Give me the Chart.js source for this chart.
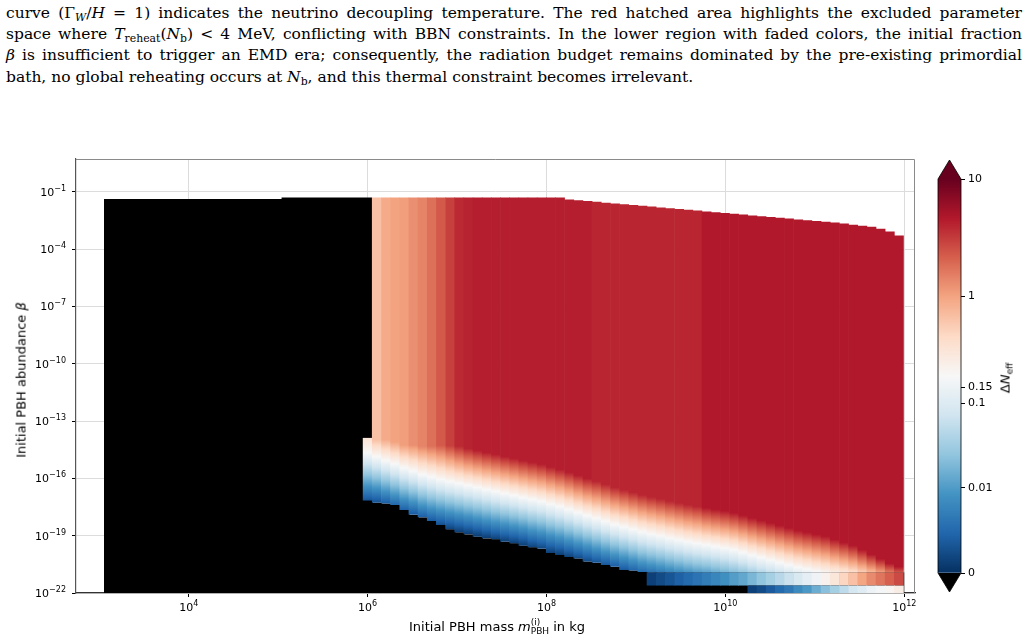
<!DOCTYPE html>
<html>
<head>
<meta charset="utf-8">
<script src="https://cdn.jsdelivr.net/npm/chart.js"></script>
<style>
  body { margin: 0; width: 1028px; height: 643px; background: #fff; position: relative; overflow: hidden; font-family: 'DejaVu Sans', sans-serif; color: #000; }
  #caption { position: absolute; left: 6px; top: 3px; width: 1016px; font-family: 'DejaVu Serif', serif; font-size: 15.5px; line-height: 21.2px; }
  #caption .ln { display: block; text-align: justify; text-align-last: justify; }
  #caption .ln.last { text-align-last: left; }
  #caption sub { font-size: 70%; line-height: 0; vertical-align: -0.25em; }
  #mainWrap { position: absolute; left: 0; top: 140px; width: 930px; height: 490px; }
  #barWrap { position: absolute; left: 925px; top: 140px; width: 103px; height: 480px; }
  .axtitle { position: absolute; font-size: 13px; white-space: nowrap; transform: translate(-50%, -50%); }
  .rot { transform: translate(-50%, -50%) rotate(-90deg); }
  .ss { display: inline-block; font-size: 9px; line-height: 9px; vertical-align: -3px; }
  .sub { font-size: 9px; vertical-align: -3px; }
</style>
</head>
<body>
<div id="caption">
  <span class="ln">curve (Γ<sub><i>W</i></sub>/<i>H</i> = 1) indicates the neutrino decoupling temperature. The red hatched area highlights the excluded parameter</span>
  <span class="ln">space where <i>T</i><sub>reheat</sub>(<i>N</i><sub>b</sub>) &lt; 4 MeV, conflicting with BBN constraints. In the lower region with faded colors, the initial fraction</span>
  <span class="ln"><i>β</i> is insufficient to trigger an EMD era; consequently, the radiation budget remains dominated by the pre-existing primordial</span>
  <span class="ln last">bath, no global reheating occurs at <i>N</i><sub>b</sub>, and this thermal constraint becomes irrelevant.</span>
</div>
<div id="mainWrap"><canvas id="heat" width="930" height="490"></canvas></div>
<div id="barWrap"><canvas id="cbar" width="103" height="480"></canvas></div>
<div class="axtitle rot" style="left:21px; top:380px;">Initial PBH abundance <i>β</i></div>
<div class="axtitle" style="left:497px; top:627px;">Initial PBH mass <i>m</i><span class="ss">(i)<br>PBH</span> in kg</div>
<div class="axtitle rot" style="left:1006px; top:378px;">Δ<i>N</i><span class="sub">eff</span></div>
<script>
// column centres, log10 of the initial PBH mass in kg
const massExp = [6.001, 6.103, 6.206, 6.308, 6.411, 6.513, 6.615, 6.718, 6.820, 6.923,
  7.025, 7.127, 7.230, 7.332, 7.435, 7.537, 7.639, 7.742, 7.844, 7.947,
  8.049, 8.151, 8.254, 8.356, 8.459, 8.561, 8.663, 8.766, 8.868, 8.971,
  9.073, 9.175, 9.278, 9.380, 9.483, 9.585, 9.687, 9.790, 9.892, 9.995,
  10.097, 10.199, 10.302, 10.404, 10.507, 10.609, 10.711, 10.814, 10.916, 11.019,
  11.121, 11.223, 11.326, 11.428, 11.531, 11.633, 11.735, 11.838, 11.940];

// log10 beta: upper and lower edge of the coloured cells in each column
const topEdge = [-13.88, -1.30, -1.30, -1.30, -1.30, -1.30, -1.30, -1.30, -1.30, -1.30,
  -1.30, -1.30, -1.30, -1.30, -1.30, -1.30, -1.30, -1.30, -1.30, -1.30,
  -1.30, -1.30, -1.40, -1.44, -1.48, -1.52, -1.57, -1.61, -1.65, -1.69,
  -1.73, -1.77, -1.82, -1.86, -1.90, -1.94, -1.98, -2.03, -2.07, -2.11,
  -2.15, -2.19, -2.24, -2.28, -2.32, -2.36, -2.40, -2.45, -2.49, -2.53,
  -2.57, -2.61, -2.66, -2.72, -2.77, -2.83, -2.93, -3.07, -3.28];
const bottomEdge = [-17.16, -17.27, -17.31, -17.39, -17.65, -17.91, -18.04, -18.23, -18.44, -18.66,
  -18.82, -18.93, -19.05, -19.14, -19.18, -19.32, -19.39, -19.52, -19.60, -19.69,
  -19.90, -20.01, -20.11, -20.19, -20.35, -20.42, -20.53, -20.63, -20.79, -20.82,
  -20.90, -20.92, -20.92, -20.92, -20.92, -20.92, -20.92, -20.92, -20.92, -20.92,
  -20.92, -20.92, -20.92, -20.92, -20.92, -20.92, -20.92, -20.92, -20.92, -20.92,
  -20.92, -20.92, -20.92, -20.92, -20.92, -20.92, -20.92, -20.92, -20.92];

// log10 beta where the column leaves its plateau value, crosses white, reaches Delta N = 0
const redEdge = [-14.03, -13.98, -13.96, -14.09, -14.25, -14.25, -14.32, -14.30, -14.27, -14.28,
  -14.32, -14.43, -14.53, -14.64, -14.74, -14.85, -14.95, -15.06, -15.16, -15.26,
  -15.40, -15.53, -15.68, -15.84, -16.00, -16.15, -16.31, -16.47, -16.60, -16.73,
  -16.86, -16.97, -17.07, -17.18, -17.28, -17.38, -17.46, -17.54, -17.62, -17.70,
  -17.80, -17.93, -18.07, -18.20, -18.33, -18.46, -18.59, -18.72, -18.82, -18.93,
  -19.03, -19.20, -19.35, -19.51, -19.74, -19.98, -20.21, -20.45, -20.63];
const whiteEdge = [-14.66, -14.87, -15.06, -15.24, -15.45, -15.61, -15.79, -15.92, -16.05, -16.16,
  -16.26, -16.37, -16.47, -16.58, -16.68, -16.79, -16.89, -17.00, -17.10, -17.20,
  -17.34, -17.47, -17.62, -17.78, -17.94, -18.09, -18.25, -18.41, -18.54, -18.67,
  -18.80, -18.91, -19.01, -19.12, -19.22, -19.32, -19.40, -19.48, -19.56, -19.64,
  -19.74, -19.87, -20.01, -20.14, -20.27, -20.40, -20.53, -20.66, -20.76, -20.87,
  -20.97, -21.08, -21.18, -21.29, -21.42, -21.55, -21.68, -21.81, -21.94];
const blueEdge = [-17.55, -17.60, -17.75, -17.95, -18.15, -18.30, -18.50, -18.65, -18.75, -18.85,
  -18.95, -19.05, -19.15, -19.25, -19.35, -19.45, -19.55, -19.65, -19.80, -19.90,
  -20.05, -20.15, -20.30, -20.45, -20.60, -20.75, -20.90, -21.05, -21.20, -21.35,
  -21.50, -21.60, -21.70, -21.80, -21.90, -22.00, -22.10, -22.15, -22.25, -22.35,
  -22.45, -22.55, -22.70, -22.85, -22.95, -23.10, -23.25, -23.35, -23.45, -23.55,
  -23.65, -23.80, -23.90, -24.00, -24.10, -24.25, -24.40, -24.50, -24.65];

// plateau Delta N_eff of each column
const topValue = [0.31, 0.65, 0.90, 1.0, 1.06, 1.25, 1.42, 1.77, 2.26, 3.0,
  3.8, 4.1, 4.3, 4.3, 4.3, 4.3, 4.3, 4.3, 4.3, 4.3,
  4.3, 4.3, 4.3, 4.3, 4.3, 4.0, 4.0, 4.0, 4.0, 4.0,
  4.0, 4.0, 4.0, 4.0, 4.0, 4.0, 4.0, 4.6, 4.6, 4.6,
  4.6, 4.6, 4.6, 4.6, 4.6, 4.6, 4.6, 4.6, 4.6, 4.6,
  4.6, 4.6, 4.6, 4.6, 4.6, 4.6, 4.6, 4.6, 4.6];

// the two lowest beta rows, Delta N_eff per column starting at the given column
const rowLimits = [-22, -21.61, -20.92];
const row1Start = 31;
const row1Value = [0.0014, 0.0023, 0.0032, 0.0042, 0.0051, 0.0060, 0.0069, 0.0079, 0.0088, 0.0104,
  0.0129, 0.0178, 0.0246, 0.0339, 0.0467, 0.0644, 0.089, 0.121, 0.160, 0.222,
  0.309, 0.466, 0.647, 0.975, 1.33, 1.68, 2.12, 2.68];
const row2Start = 42;
const row2Value = [0.0014, 0.0023, 0.0037, 0.0051, 0.0065, 0.0083, 0.0097, 0.0144, 0.0221, 0.0339,
  0.052, 0.080, 0.109, 0.147, 0.174, 0.205, 0.262];

// no-EMD region (under the colour range)
const blockX = [3.053, 5.038, 5.038, 6.052];
const blockTop = [-1.37, -1.37, -1.30, -1.30];

const xTicks = [4, 6, 8, 10, 12];
const yTicks = [-22, -19, -16, -13, -10, -7, -4, -1];
const cbTickValues = [0, 0.01, 0.1, 0.15, 1, 10];
const cbTickLabels = ['0', '0.01', '0.1', '0.15', '1', '10'];
const cbTickPos = [0, 0.216, 0.431, 0.472, 0.703, 1];

// RdBu_r
const cmapNodes = ['#053061', '#2166ac', '#4393c3', '#92c5de', '#d1e5f0', '#f7f7f7',
  '#fddbc7', '#f4a582', '#d6604d', '#b2182b', '#67001f'];

function hexRgb(h) {
  return [parseInt(h.slice(1, 3), 16), parseInt(h.slice(3, 5), 16), parseInt(h.slice(5, 7), 16)];
}
function cmap(f) {
  f = Math.min(1, Math.max(0, f));
  const p = f * 10, k = Math.min(9, Math.floor(p)), t = p - k;
  const a = hexRgb(cmapNodes[k]), b = hexRgb(cmapNodes[k + 1]);
  const c = a.map((v, j) => Math.round(v + (b[j] - v) * t));
  return 'rgb(' + c.join(',') + ')';
}
function valueToFrac(v) {
  if (v <= 0) return 0;
  if (v >= cbTickValues[5]) return 1;
  if (v < cbTickValues[1]) return v / cbTickValues[1] * cbTickPos[1];
  for (let k = 1; k < 5; k++) {
    if (v <= cbTickValues[k + 1]) {
      const t = Math.log10(v / cbTickValues[k]) / Math.log10(cbTickValues[k + 1] / cbTickValues[k]);
      return cbTickPos[k] + t * (cbTickPos[k + 1] - cbTickPos[k]);
    }
  }
  return 1;
}

function columnFill(ctx) {
  const chart = ctx.chart;
  if (!chart.chartArea || ctx.type !== 'data') return '#000';
  const i = ctx.dataIndex, ys = chart.scales.y;
  const y0 = ys.getPixelForValue(redEdge[i]);
  const yw = ys.getPixelForValue(whiteEdge[i]);
  const y1 = ys.getPixelForValue(blueEdge[i]);
  const span = y1 - y0;
  const fTop = valueToFrac(topValue[i]);
  const g = chart.ctx.createLinearGradient(0, y0, 0, y1);
  g.addColorStop(0, cmap(fTop));
  for (let k = 9; k >= 5; k--) {
    const f = k / 10;
    if (f < fTop) g.addColorStop(((yw - y0) * (fTop - f) / (fTop - 0.5)) / span, cmap(f));
  }
  for (let k = 4; k >= 0; k--) {
    const f = k / 10;
    g.addColorStop(((yw - y0) + (y1 - yw) * (0.5 - f) / 0.5) / span, cmap(f));
  }
  return g;
}

Chart.defaults.font.family = "'DejaVu Sans', sans-serif";
Chart.defaults.font.size = 11;
Chart.defaults.color = '#000';

// 10^n labels with a raised, smaller exponent
function drawPow(c, x, y, n, align) {
  const exp = String(n).replace('-', '\u2212');
  c.font = "11px 'DejaVu Sans'";
  const wb = c.measureText('10').width;
  c.font = "8px 'DejaVu Sans'";
  const we = c.measureText(exp).width;
  const x0 = align === 'right' ? x - wb - we : x - (wb + we) / 2;
  c.font = "11px 'DejaVu Sans'";
  c.fillText('10', x0, y);
  c.font = "8px 'DejaVu Sans'";
  c.fillText(exp, x0 + wb, y - 5);
}

const axisPlugin = {
  id: 'axisLabels',
  afterDraw(chart) {
    const a = chart.chartArea, c = chart.ctx, xs = chart.scales.x, ys = chart.scales.y;
    c.save();
    // top and right spines
    c.strokeStyle = '#8a8a8a';
    c.lineWidth = 1;
    c.beginPath();
    c.moveTo(a.left, a.top + 0.5);
    c.lineTo(a.right - 0.5, a.top + 0.5);
    c.lineTo(a.right - 0.5, a.bottom);
    c.stroke();
    c.fillStyle = '#000';
    c.textBaseline = 'alphabetic';
    c.textAlign = 'left';
    xTicks.forEach(v => drawPow(c, xs.getPixelForValue(v), a.bottom + 18, v, 'center'));
    yTicks.forEach(v => drawPow(c, a.left - 10, ys.getPixelForValue(v) + 4, v, 'right'));
    c.restore();
  }
};

new Chart(document.getElementById('heat'), {
  type: 'bar',
  data: {
    datasets: [
      {
        type: 'line',
        data: blockX.map((x, k) => ({ x, y: blockTop[k] })),
        fill: 'start', backgroundColor: '#000', borderWidth: 0, pointRadius: 0, tension: 0, order: 5
      },
      {
        data: massExp.map((x, i) => ({ x, y: [-22, bottomEdge[i]] })),
        backgroundColor: '#000', barThickness: 10.6, order: 4
      },
      {
        data: massExp.map((x, i) => ({ x, y: [bottomEdge[i], topEdge[i]] })),
        backgroundColor: columnFill, order: 3
      },
      {
        data: row1Value.map((v, k) => ({ x: massExp[row1Start + k], y: [rowLimits[1], rowLimits[2]] })),
        backgroundColor: ctx => cmap(valueToFrac(row1Value[ctx.dataIndex] || 0)), order: 2
      },
      {
        data: row2Value.map((v, k) => ({ x: massExp[row2Start + k], y: [rowLimits[0], rowLimits[1]] })),
        backgroundColor: ctx => cmap(valueToFrac(row2Value[ctx.dataIndex] || 0)), order: 1
      }
    ]
  },
  options: {
    responsive: false,
    animation: false,
    devicePixelRatio: 1,
    layout: { padding: { top: 19, right: 15, left: 0, bottom: 0 } },
    datasets: { bar: { grouped: false, barThickness: 9.8, borderWidth: 0, inflateAmount: 0 } },
    plugins: { legend: { display: false }, tooltip: { enabled: false } },
    scales: {
      x: {
        type: 'linear', min: 2.74, max: 12.12, offset: false,
        afterBuildTicks: s => { s.ticks = xTicks.map(v => ({ value: v })); },
        afterFit: s => { s.height = 37; },
        ticks: { autoSkip: false, maxRotation: 0, callback: () => '' },
        grid: { color: '#dcdcdc', tickColor: '#000', tickLength: 4, offset: false },
        border: { color: '#333', width: 1.2 }
      },
      y: {
        type: 'linear', min: -22, max: 0.72,
        afterBuildTicks: s => { s.ticks = yTicks.map(v => ({ value: v })); },
        afterFit: s => { s.width = 76; },
        ticks: { autoSkip: false, callback: () => '' },
        grid: { color: '#dcdcdc', tickColor: '#000', tickLength: 4 },
        border: { color: '#555', width: 1.2 }
      }
    }
  },
  plugins: [axisPlugin]
});

// colour bar
const extendPlugin = {
  id: 'extend',
  afterDatasetsDraw(chart) {
    const a = chart.chartArea, c = chart.ctx, cx = (a.left + a.right) / 2, h = 19;
    c.save();
    c.fillStyle = cmapNodes[10];
    c.beginPath(); c.moveTo(a.left, a.top); c.lineTo(cx, a.top - h); c.lineTo(a.right, a.top); c.closePath(); c.fill();
    c.fillStyle = '#000';
    c.beginPath(); c.moveTo(a.left, a.bottom); c.lineTo(cx, a.bottom + h); c.lineTo(a.right, a.bottom); c.closePath(); c.fill();
    c.strokeStyle = '#000'; c.lineWidth = 0.8;
    c.beginPath();
    c.moveTo(a.left, a.top); c.lineTo(cx, a.top - h); c.lineTo(a.right, a.top);
    c.lineTo(a.right, a.bottom); c.lineTo(cx, a.bottom + h); c.lineTo(a.left, a.bottom);
    c.closePath(); c.stroke();
    c.restore();
  }
};

new Chart(document.getElementById('cbar'), {
  type: 'bar',
  data: {
    labels: [''],
    datasets: [{
      data: [[0, 1]],
      barPercentage: 1, categoryPercentage: 1, borderWidth: 0,
      backgroundColor: ctx => {
        const a = ctx.chart.chartArea;
        if (!a) return '#fff';
        const g = ctx.chart.ctx.createLinearGradient(0, a.bottom, 0, a.top);
        cmapNodes.forEach((col, k) => g.addColorStop(k / 10, col));
        return g;
      }
    }]
  },
  options: {
    responsive: false,
    animation: false,
    devicePixelRatio: 1,
    layout: { padding: { top: 39, bottom: 47, left: 13, right: 0 } },
    plugins: { legend: { display: false }, tooltip: { enabled: false } },
    scales: {
      x: { display: false },
      y: {
        position: 'right', min: 0, max: 1,
        afterBuildTicks: s => { s.ticks = cbTickPos.map(v => ({ value: v })); },
        afterFit: s => { s.width = 67; },
        ticks: { autoSkip: false, padding: 3, callback: (v, k) => cbTickLabels[k] },
        grid: { drawOnChartArea: false, tickColor: '#000', tickLength: 4 },
        border: { display: false }
      }
    }
  },
  plugins: [extendPlugin]
});
</script>
</body>
</html>
